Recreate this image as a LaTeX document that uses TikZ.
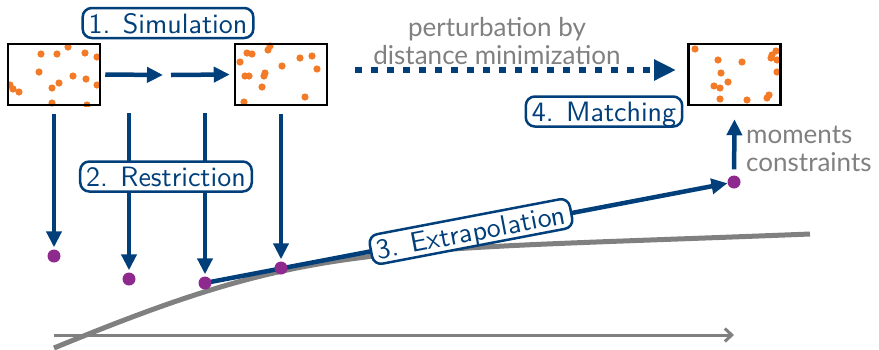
\documentclass[tikz,border=0pt]{standalone}
\usepackage{fontspec}
\newfontfamily\latofont{Lato}
\newfontfamily\lsf{lmsans10-regular.otf}
\usetikzlibrary{arrows.meta,backgrounds}
\definecolor{dblue}{RGB}{0,63,122}
\definecolor{dorange}{RGB}{243,122,38}
\definecolor{dpurple}{RGB}{142,42,142}
\definecolor{dgray}{RGB}{128,128,128}
\begin{document}
\begin{tikzpicture}[x=1pt,y=-1pt,
  bline/.style={draw=dblue,line width=4.5pt,-{Triangle[length=16pt,width=15pt]}},
  simbox/.style={draw=black,line width=2.5pt,minimum width=92pt,minimum height=61pt,inner sep=0pt},
  steplabel/.style={draw=dblue,fill=white,line width=2.5pt,rounded corners=9pt,text=dblue,
    font=\lsf\fontsize{28}{28}\selectfont,inner xsep=6pt,inner ysep=0pt,
    text height=25pt,text depth=5pt,minimum height=30pt},
  pdot/.style={circle,fill=dpurple,minimum size=13pt,inner sep=0pt},
  graytext/.style={text=dgray,font=\latofont\fontsize{26}{28}\selectfont,inner sep=0pt},
  odot/.style={fill=dorange}
]
\useasboundingbox (0,0) rectangle (879,349);

% boxes
\node[simbox] (b1) at (54,74.5) {};
\node[simbox] (b2) at (281,74.5) {};
\node[simbox] (b3) at (734.5,74.5) {};

% labels
\node[steplabel] (s1) at (168,23) {1. Simulation};
\node[steplabel] (s2) at (166,176.5) {2. Restriction};
\node[steplabel,rotate=10.8] (s3) at (471,231.5) {3. Extrapolation};
\node[steplabel] (s4) at (604,111.5) {4. Matching};

% purple dots
\node[pdot] (d1) at (54,256) {};
\node[pdot] (d2) at (129,279) {};
\node[pdot] (d3) at (205,283) {};
\node[pdot] (d4) at (281,268) {};
\node[pdot] (d5) at (734,182) {};

% gray texts
\node[graytext,align=center] (pert) at (497,41) {perturbation by\\distance minimization};
\node[graytext,align=left,anchor=west] (mom) at (746,149) {moments\\constraints};

% free ends
\coordinate (mid1) at (163,75);
\coordinate (mid2) at (171,75);
\coordinate (t2) at (129,113);
\coordinate (t3) at (205,113);
\coordinate (ds) at (355,70);
\coordinate (de) at (676,70);
\coordinate (ax0) at (54,335);
\coordinate (ax1) at (734,335);
\coordinate (c0) at (54,348);
\coordinate (c1) at (810,234);

\begin{pgfonlayer}{background}
  % orange particles
  \begin{scope}
    \clip (b1.south west) rectangle (b1.north east);
    \foreach \p in {(41,54),(57,54),(68,47),(85,53),(97,57),(39,72),(73,76),(59,83),(52,88),(86,79),(97,85),(10,85),(13,89),(19,92),(52,103),(87,105)}
      \fill[odot] \p circle (3.6pt);
  \end{scope}
  \begin{scope}
    \clip (b2.south west) rectangle (b2.north east);
    \foreach \p in {(247,53),(252,54),(268,50),(270,46),(240,62),(282,66),(300,58),(312,56),(317,69),(245,76),(249,76),(265,73),(264,76),(262,87),(305,97),(244,102)}
      \fill[odot] \p circle (3.6pt);
  \end{scope}
  \begin{scope}
    \clip (b3.south west) rectangle (b3.north east);
    \foreach \p in {(695,49),(718,60),(742,62),(721,73),(728,82),(714,86),(720,88),(720,99),(747,100),(767,98),(769,95),(776,51),(772,55),(771,58),(777,60),(777,72)}
      \fill[odot] \p circle (3.6pt);
  \end{scope}

  % gray curve and axis
  \draw[dgray,line width=5pt] (c0) .. controls (314,241) and (360,252) .. (c1);
  \draw[dgray,line width=3pt,-{Straight Barb[length=7pt,width=13pt]}] (ax0) -- (ax1);

  % extrapolation
  \draw[bline] (d3.center) -- (d5);

  % simulation arrows
  \draw[bline] ([xshift=4pt]b1.east) -- (mid1);
  \draw[bline] (mid2) -- ([xshift=-4pt]b2.west);

  % restriction arrows
  \draw[bline,shorten >=2pt] ([yshift=-8pt]b1.south) -- (d1);
  \draw[bline,shorten >=2pt] (t2) -- (d2);
  \draw[bline,shorten >=2pt] (t3) -- (d3);
  \draw[bline,shorten >=2pt] ([yshift=-8pt]b2.south) -- (d4);

  % perturbation
  \draw[draw=dblue,line width=6.5pt,dash pattern=on 7pt off 9pt,-{Triangle[length=22pt,width=20pt]}] (ds) -- (de);

  % moments
  \draw[bline,shorten <=6pt] (d5) -- ([yshift=-13pt]b3.south);
\end{pgfonlayer}
\end{tikzpicture}
\end{document}
